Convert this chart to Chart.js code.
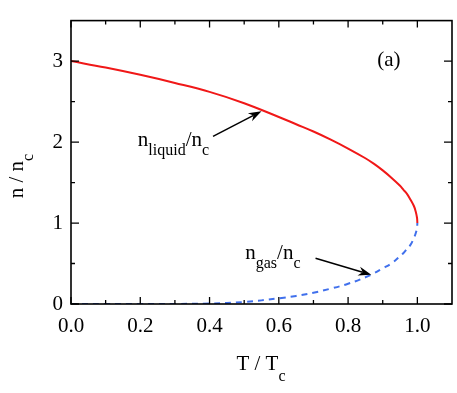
<!DOCTYPE html>
<html>
<head>
<meta charset="utf-8">
<script src="https://cdn.jsdelivr.net/npm/chart.js@4/dist/chart.umd.min.js"></script>
<style>
  html, body { margin: 0; padding: 0; background: #fff; }
  #wrap { width: 457px; height: 393px; }
</style>
</head>
<body>
<div id="wrap"><canvas id="phase"></canvas></div>
<script>
// reduced temperature T/Tc
const temps = [0, 0.1, 0.2, 0.3, 0.4, 0.5, 0.6, 0.65, 0.7, 0.75, 0.8, 0.85, 0.875, 0.9, 0.925, 0.95, 0.96, 0.97, 0.98, 0.99, 0.995, 0.999, 1.0];
// liquid and gas branches of the coexistence curve, n/nc
const liquidDensity = [3.00, 2.92, 2.83, 2.73, 2.62, 2.48, 2.31, 2.22, 2.13, 2.03, 1.92, 1.80, 1.73, 1.65, 1.56, 1.46, 1.41, 1.36, 1.29, 1.21, 1.145, 1.065, 1.00];
const gasDensity = [0, 0, 0, 0.001, 0.006, 0.025, 0.07, 0.10, 0.14, 0.19, 0.25, 0.33, 0.38, 0.44, 0.50, 0.59, 0.63, 0.68, 0.73, 0.815, 0.87, 0.94, 1.00];

const xTicks = [0, 0.2, 0.4, 0.6, 0.8, 1.0];
const xMinorTicks = [0.1, 0.3, 0.5, 0.7, 0.9];
const yTicks = [0, 1, 2, 3];
const yMinorTicks = [0.5, 1.5, 2.5];

const serif = '"Liberation Serif", "Times New Roman", serif';

function toPoints(xs, ys) {
  return xs.map((x, i) => ({ x: x, y: ys[i] }));
}

// text made of [string, isSubscript] pieces
function drawPieces(ctx, pieces, x, y, size, subSize, subDrop) {
  let cx = x;
  pieces.forEach(p => {
    ctx.font = (p[1] ? subSize : size) + 'px ' + serif;
    ctx.fillText(p[0], cx, p[1] ? y + subDrop : y);
    cx += ctx.measureText(p[0]).width;
  });
}

function piecesWidth(ctx, pieces, size, subSize) {
  let w = 0;
  pieces.forEach(p => {
    ctx.font = (p[1] ? subSize : size) + 'px ' + serif;
    w += ctx.measureText(p[0]).width;
  });
  return w;
}

function drawArrow(ctx, x1, y1, x2, y2) {
  const ang = Math.atan2(y2 - y1, x2 - x1);
  const len = 13, half = 4.5, notch = 9;
  ctx.beginPath();
  ctx.moveTo(x1, y1);
  ctx.lineTo(x2 - notch * Math.cos(ang), y2 - notch * Math.sin(ang));
  ctx.stroke();
  ctx.beginPath();
  ctx.moveTo(x2, y2);
  ctx.lineTo(x2 - len * Math.cos(ang) + half * Math.sin(ang), y2 - len * Math.sin(ang) - half * Math.cos(ang));
  ctx.lineTo(x2 - notch * Math.cos(ang), y2 - notch * Math.sin(ang));
  ctx.lineTo(x2 - len * Math.cos(ang) - half * Math.sin(ang), y2 - len * Math.sin(ang) + half * Math.cos(ang));
  ctx.closePath();
  ctx.fill();
}

const framePlugin = {
  id: 'frame',
  afterDraw(chart) {
    const ctx = chart.ctx;
    const a = chart.chartArea;
    const xs = chart.scales.x, ys = chart.scales.y;
    ctx.save();
    ctx.strokeStyle = '#000';
    ctx.fillStyle = '#000';

    // frame
    ctx.lineWidth = 1.6;
    ctx.strokeRect(a.left, a.top, a.right - a.left, a.bottom - a.top);

    // inward ticks on all four sides
    ctx.lineWidth = 1.3;
    ctx.beginPath();
    const tickX = (vals, len) => vals.forEach(v => {
      const px = xs.getPixelForValue(v);
      ctx.moveTo(px, a.bottom); ctx.lineTo(px, a.bottom - len);
      ctx.moveTo(px, a.top); ctx.lineTo(px, a.top + len);
    });
    const tickY = (vals, len) => vals.forEach(v => {
      const py = ys.getPixelForValue(v);
      ctx.moveTo(a.left, py); ctx.lineTo(a.left + len, py);
      ctx.moveTo(a.right, py); ctx.lineTo(a.right - len, py);
    });
    tickX(xTicks, 7); tickX(xMinorTicks, 4);
    tickY(yTicks, 8); tickY(yMinorTicks, 4);
    ctx.stroke();

    // arrows
    ctx.lineWidth = 1.5;
    drawArrow(ctx, xs.getPixelForValue(0.41), ys.getPixelForValue(2.07),
      xs.getPixelForValue(0.55), ys.getPixelForValue(2.38));
    drawArrow(ctx, xs.getPixelForValue(0.706), ys.getPixelForValue(0.565),
      xs.getPixelForValue(0.867), ys.getPixelForValue(0.36));

    // labels
    ctx.textBaseline = 'alphabetic';
    ctx.textAlign = 'left';
    drawPieces(ctx, [['n', false], ['liquid', true], ['/n', false], ['c', true]],
      xs.getPixelForValue(0.193), ys.getPixelForValue(1.95), 21, 16, 9);
    drawPieces(ctx, [['n', false], ['gas', true], ['/n', false], ['c', true]],
      xs.getPixelForValue(0.503), ys.getPixelForValue(0.553), 21, 16, 9);
    ctx.font = '21px ' + serif;
    ctx.fillText('(a)', xs.getPixelForValue(0.884), ys.getPixelForValue(2.935));

    // axis titles
    const xt = [['T / T', false], ['c', true]];
    const xw = piecesWidth(ctx, xt, 21, 16);
    drawPieces(ctx, xt, 261 - xw / 2, a.bottom + 66, 21, 16, 11);

    const yt = [['n / n', false], ['c', true]];
    const yw = piecesWidth(ctx, yt, 21, 16);
    ctx.translate(23, 176);
    ctx.rotate(-Math.PI / 2);
    drawPieces(ctx, yt, -yw / 2, 0, 21, 16, 10);
    ctx.restore();
  }
};

new Chart(document.getElementById('phase'), {
  type: 'line',
  data: {
    datasets: [
      {
        label: 'liquid',
        data: toPoints(temps, liquidDensity),
        borderColor: 'rgb(240, 24, 24)',
        borderWidth: 2,
        pointRadius: 0,
        tension: 0.4,
        fill: false
      },
      {
        label: 'gas',
        data: toPoints(temps, gasDensity),
        borderColor: 'rgb(64, 112, 236)',
        borderWidth: 2,
        borderDash: [6, 5],
        pointRadius: 0,
        tension: 0.4,
        fill: false
      }
    ]
  },
  options: {
    responsive: true,
    maintainAspectRatio: false,
    animation: false,
    events: [],
    layout: { padding: { top: 13, right: 5, left: 0, bottom: 0 } },
    plugins: {
      legend: { display: false },
      tooltip: { enabled: false }
    },
    scales: {
      x: {
        type: 'linear',
        min: 0,
        max: 1.1,
        grid: { display: false, drawTicks: false },
        border: { display: false },
        afterBuildTicks: s => { s.ticks = xTicks.map(v => ({ value: v })); },
        afterFit: s => { s.height = 89; },
        ticks: {
          padding: 10,
          color: '#000',
          font: { family: serif, size: 21 },
          callback: v => v.toFixed(1)
        }
      },
      y: {
        type: 'linear',
        min: 0,
        max: 3.5,
        grid: { display: false, drawTicks: false },
        border: { display: false },
        afterBuildTicks: s => { s.ticks = yTicks.map(v => ({ value: v })); },
        afterFit: s => { s.width = 71; },
        ticks: {
          padding: 8,
          color: '#000',
          font: { family: serif, size: 21 },
          callback: v => String(v)
        }
      }
    }
  },
  plugins: [framePlugin]
});
</script>
</body>
</html>
